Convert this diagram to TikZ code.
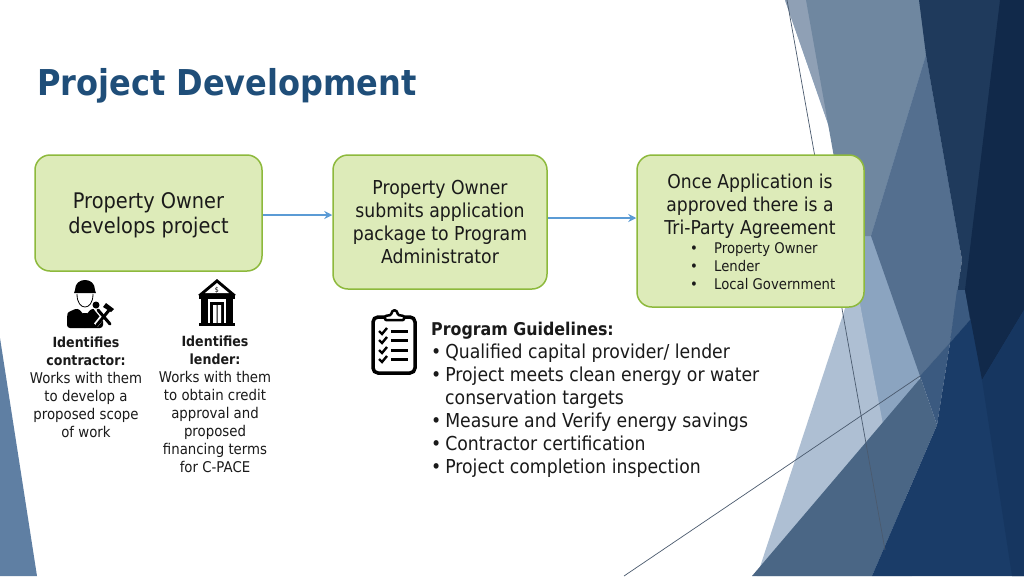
\documentclass[tikz,border=0pt]{standalone}
\usepackage{fontspec}
\setmainfont{DejaVu Sans}[FakeStretch=0.9]
\usetikzlibrary{arrows.meta}
\definecolor{titleblue}{HTML}{1F4E79}
\definecolor{boxfill}{HTML}{DDEBB9}
\definecolor{boxline}{HTML}{8DB93C}
\definecolor{arrowblue}{HTML}{5B9BD5}
\definecolor{inktext}{HTML}{1A1A1A}
\definecolor{facetA}{HTML}{8BA4C0}
\definecolor{facetB}{HTML}{AEBFD3}
\definecolor{facetC}{HTML}{8FA0B5}
\definecolor{facetD}{HTML}{6F87A0}
\definecolor{facetE}{HTML}{546F8F}
\definecolor{facetF}{HTML}{4A6685}
\definecolor{facetG}{HTML}{3B5A80}
\definecolor{facetH}{HTML}{1F3A5C}
\definecolor{facetI}{HTML}{1A3C68}
\definecolor{facetJ}{HTML}{11294A}
\definecolor{facetK}{HTML}{163660}
\definecolor{facetL}{HTML}{5F7FA3}
\definecolor{rayline}{HTML}{4A5A6E}
\tikzset{
stepbox/.style={draw=boxline,fill=boxfill,line width=1.5pt,rounded corners=15pt,inner sep=0pt,align=center,text=inktext},
flow/.style={draw=arrowblue,line width=2pt,-{Stealth[length=8pt,width=8pt]}},
note/.style={inner sep=0pt,align=center,text=inktext,font=\fontsize{14.8}{18}\selectfont},
}
\newcommand{\notehead}[1]{{\fontsize{14}{18}\selectfont\bfseries #1}}
\newcommand{\gitem}{•\hspace{-1.6pt} }
\begin{document}
\begin{tikzpicture}[x=1pt,y=-1pt,
worker/.pic={
\fill(-11,-11)--(-10,-14)..controls(-10,-21)and(-5,-24)..(0,-24)..controls(5,-24)and(10,-21)..(10,-14)--(11,-11)--cycle;
\draw[line width=.8pt](-8,-10)..controls(-8,-1)and(-4,3)..(0,3)..controls(4,3)and(8,-1)..(8,-10);
\fill[rounded corners=3pt](-18,24)--(-18,12)..controls(-17,8)and(-12,6)..(-7,4)--(0,12)--(7,4)..controls(12,6)and(17,8)..(18,14)--(18,24)--cycle;
\fill(-2,9)--(2,9)--(1,13)--(3,22)--(0,24)--(-3,22)--(-1,13)--cycle;
\draw[white,line width=5pt](11,21)--(26,2)(11,4)--(25,21);
\draw[line width=3pt,line cap=round](12,21)--(25,5);
\draw[line width=3pt,line cap=round](13,6)--(25,20);
\fill(21,-1)--(29,5)--(26,8)--(18,3)--cycle;
\fill(11,1)circle(3.5pt);
},
bank/.pic={
\fill(0,-23)--(19,-7)--(-19,-7)--cycle;
\fill[white](0,-19)--(12,-9)--(-12,-9)--cycle;
\node[inner sep=0pt,font=\fontsize{7}{7}\selectfont](dollar)at(0,-12){\$};
\fill(-18,-7)rectangle(18,-3);
\fill(-16,-3)rectangle(-9,21);
\fill(9,-3)rectangle(16,21);
\fill(-7,0)rectangle(7,21);
\fill[white](-4,3)rectangle(-.5,21)(.5,3)rectangle(4,21);
\fill(-18,21)rectangle(18,24);
},
clipboard/.pic={
\draw[line width=3.5pt,rounded corners=5pt](-21,-26)rectangle(21,30);
\draw[fill=white,line width=2.5pt,rounded corners=1pt,line join=round](-9,-23)--(-9,-27)--(-3,-28)..controls(-2,-34)and(3,-34)..(4,-28)--(10,-27)--(10,-23)--cycle;
\foreach \ypos in {-12,-3,7,16}{
\draw[line width=2.4pt](-15,\ypos)--(-12,\ypos+3)--(-7,\ypos-3);
\draw[line width=3pt](-3,\ypos)--(14,\ypos);
}
},
]
\useasboundingbox(0,0)rectangle(1024,576);
\fill[white](0,0)rectangle(1024,576);
% background facets
\fill[facetA](785,0)--(960,0)--(960,300)--(920,376)--(900,530)--(855,278)--(838,153)--cycle;
\fill[facetB](855,278)--(757,576)--(912,576)--cycle;
\fill[facetC](785,0)--(806,0)--(834,140)--cycle;
\fill[facetD](806,0)--(922,0)--(926,55)--(871,236)--(848,236)--cycle;
\fill[facetE](926,55)--(962,260)--(950,343)--(920,376)--(871,236)--cycle;
\fill[facetF](970,320)--(752,576)--(872,576)--(937,425)--(920,376)--cycle;
\fill[facetG](920,376)--(950,343)--(937,425)--cycle;
\fill[facetH](919,0)--(1024,0)--(1024,300)--(970,320)--(950,343)--(962,260)--(926,55)--cycle;
\fill[facetG](957,290)--(965,290)--(970,320)--(950,343)--cycle;
\fill[facetI](970,320)--(1024,280)--(1024,576)--(872,576)--(937,425)--(950,343)--cycle;
\fill[facetJ](1000,0)--(1024,0)--(1024,310)--(982,380)--(965,290)--cycle;
\fill[facetK](982,380)--(1024,310)--(1024,576)--(1012,576)--cycle;
\fill[facetL](0,338)--(37,576)--(0,576)--cycle;
\coordinate(rayA)at(787,0);
\coordinate(rayB)at(885,550);
\coordinate(rayC)at(624,576);
\coordinate(rayD)at(920,376);
\draw[rayline,line width=.7pt](rayA)--(rayB);
\draw[rayline,line width=.7pt](rayC)--(rayD);
% title
\node[anchor=base west,inner sep=0pt,text=titleblue,font=\fontsize{35.6}{36}\selectfont\bfseries](title)at(37,95){Project Development};
% steps
\node[stepbox,minimum width=227pt,minimum height=116pt,font=\fontsize{21.5}{25}\selectfont](owner)at(148.5,213){\rule{0pt}{21pt}Property Owner\\develops project};
\node[stepbox,minimum width=214pt,minimum height=134pt,font=\fontsize{19.2}{23}\selectfont](submit)at(440,222){Property Owner\\submits application\\package to Program\\Administrator};
\node[stepbox,minimum width=227pt,minimum height=152pt](tri)at(750.5,231){};
\node[inner sep=0pt,align=center,text=inktext,font=\fontsize{19.1}{23}\selectfont](triHead)at(750,206){Once Application is\\approved there is a\\Tri-Party Agreement};
\node[anchor=north west,inner sep=0pt,align=left,text=inktext,font=\fontsize{14.7}{18}\selectfont](triList)at(690,242){\makebox[24pt][l]{•}Property Owner\\\makebox[24pt][l]{•}Lender\\\makebox[24pt][l]{•}Local Government};
\draw[flow]([yshift=-2pt]owner.east)--([yshift=7pt]submit.west);
\draw[flow]([yshift=4pt]submit.east)--([yshift=13pt]tri.west);
% icons
\pic at(85,304){worker};
\pic at(217,302){bank};
\pic at(394,343){clipboard};
% notes
\node[note,anchor=north](contractor)at(86,337){\notehead{Identifies}\\\notehead{contractor:}\\Works with them\\to develop a\\proposed scope\\of work};
\node[note,anchor=north](lender)at(215,336){\notehead{Identifies}\\\notehead{lender:}\\Works with them\\to obtain credit\\approval and\\proposed\\financing terms\\for C-PACE};
\node[anchor=north west,inner sep=0pt,align=left,text=inktext,font=\fontsize{19.2}{23}\selectfont](guide)at(431,321.5){{\fontsize{17.6}{23}\selectfont\bfseries Program Guidelines:}\\\gitem Qualified capital provider/ lender\\\gitem Project meets clean energy or water\\\hspace*{14pt}conservation targets\\\gitem Measure and Verify energy savings\\\gitem Contractor certification\\\gitem Project completion inspection};
\end{tikzpicture}
\end{document}
